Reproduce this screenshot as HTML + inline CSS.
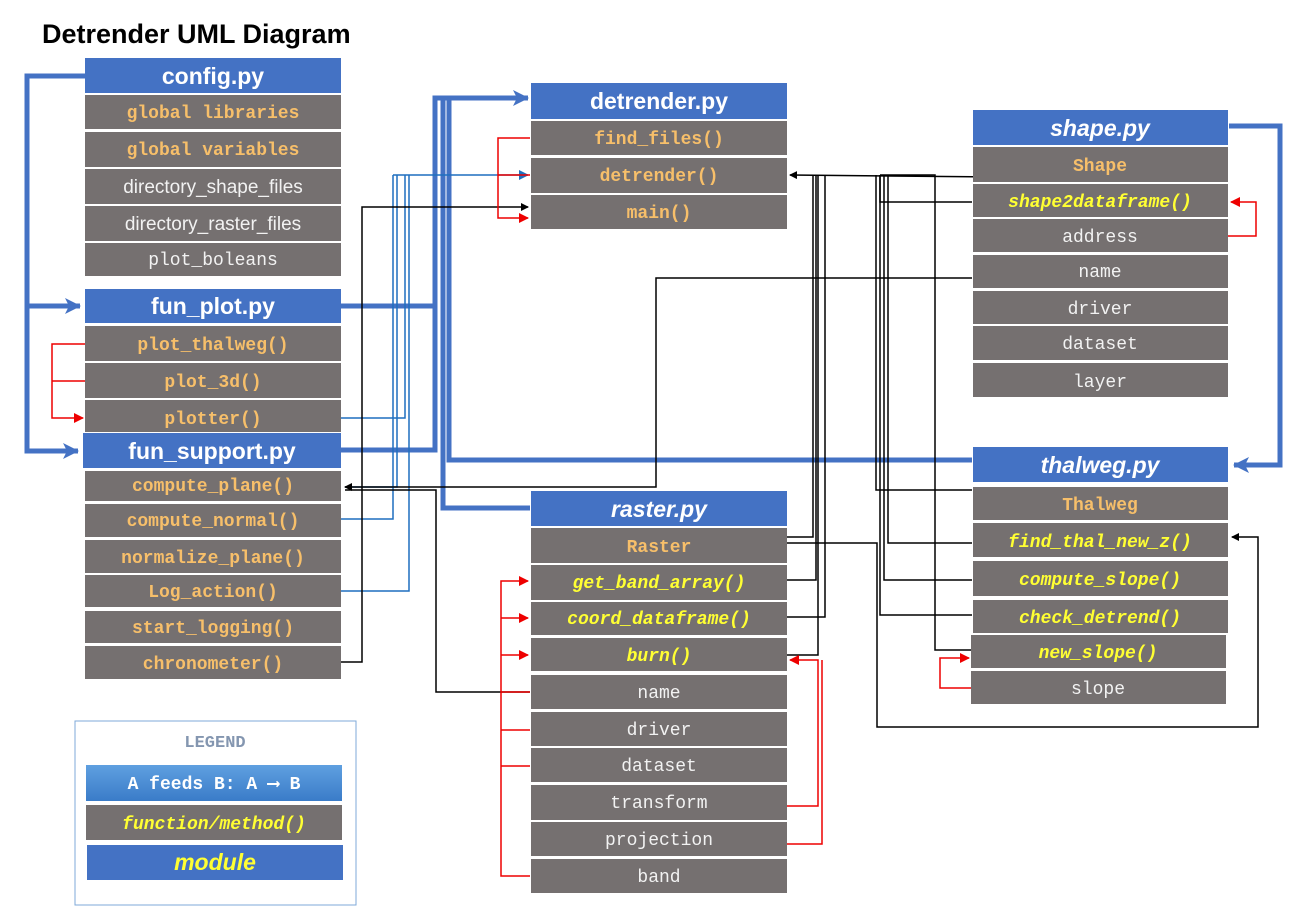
<!DOCTYPE html>
<html><head><meta charset="utf-8"><style>
html,body{margin:0;padding:0;background:#fff;width:1312px;height:910px;overflow:hidden}
svg{display:block}
.h{font-family:"Liberation Sans",sans-serif;font-weight:bold;font-size:23px;fill:#fff}
.hi{font-family:"Liberation Sans",sans-serif;font-weight:bold;font-style:italic;font-size:23px;fill:#fff}
.o{font-family:"Liberation Mono",monospace;font-weight:bold;font-size:18px;fill:#F7BF6A}
.w{font-family:"Liberation Mono",monospace;font-size:18px;fill:#F2F2F2}
.s{font-family:"Liberation Sans",sans-serif;font-size:19px;fill:#F2F2F2}
.y{font-family:"Liberation Mono",monospace;font-weight:bold;font-style:italic;font-size:18px;fill:#FFFF33}
.g{fill:#757070}.b{fill:#4472C4}
</style></head><body>
<svg width="1312" height="910" xmlns="http://www.w3.org/2000/svg">
<defs>
<marker id="ab" markerWidth="8" markerHeight="8" refX="7" refY="4" orient="auto" markerUnits="userSpaceOnUse"><path d="M0,0 L8,4 L0,8z" fill="#000"/></marker>
<marker id="ar" markerWidth="10" markerHeight="10" refX="9" refY="5" orient="auto" markerUnits="userSpaceOnUse"><path d="M0,0 L10,5 L0,10z" fill="#e00"/></marker>
<marker id="al" markerWidth="10" markerHeight="10" refX="9" refY="5" orient="auto" markerUnits="userSpaceOnUse"><path d="M0,0 L10,5 L0,10z" fill="#1F6FBF"/></marker>
<marker id="aB" markerWidth="16" markerHeight="16" refX="15" refY="8" orient="auto" markerUnits="userSpaceOnUse"><path d="M0,0 L16,8 L0,16 L4,8z" fill="#4472C4"/></marker>
<linearGradient id="lg" x1="0" y1="0" x2="0" y2="1"><stop offset="0" stop-color="#5FA0E0"/><stop offset="1" stop-color="#3A7CC8"/></linearGradient>
</defs>
<text x="42" y="43" font-family="Liberation Sans,sans-serif" font-weight="bold" font-size="27" fill="#000">Detrender UML Diagram</text>

<g fill="none" stroke="#4472C4" stroke-width="5">
<polyline points="85,76 27,76 27,451 78,451" marker-end="url(#aB)"/>
<polyline points="27,306 80,306" marker-end="url(#aB)"/>
<polyline points="341,306 435,306"/>
<polyline points="341,450 435,450 435,98 528,98" marker-end="url(#aB)"/>
<polyline points="530,508 443,508 443,98"/>
<polyline points="972,460 449,460 449,98"/>
<polyline points="1229,126 1280,126 1280,465 1234,465" marker-end="url(#aB)"/>
</g>
<g fill="none" stroke="#1F6FBF" stroke-width="1.5">
<polyline points="341,418 405,418 405,175"/>
<polyline points="341,519 393,519 393,175"/>
<polyline points="341,591 409,591 409,175"/>
<polyline points="397,175 397,487 345,487"/>
<polyline points="393,175 528,175" marker-end="url(#al)"/>
</g>
<g fill="none" stroke="#000" stroke-width="1.5">
<polyline points="341,662 362,662 362,207 528,207" marker-end="url(#ab)"/>
<polyline points="972,278 656,278 656,487 345,487" marker-end="url(#ab)"/>
<polyline points="530,692 436,692 436,490 345,490"/>
<polyline points="1000,177 790,175" marker-end="url(#ab)"/>
<polyline points="787,580 816,580 816,175"/>
<polyline points="787,617 825,617 825,175"/>
<polyline points="787,655 818,655 818,175"/>
<polyline points="787,537 813,537 813,175"/>
<polyline points="787,543 877,543 877,727 1258,727 1258,537 1232,537" marker-end="url(#ab)"/>
<polyline points="972,202 880,202 880,175"/>
<polyline points="972,490 876,490 876,175"/>
<polyline points="972,543 888,543 888,175"/>
<polyline points="972,580 884,580 884,175"/>
<polyline points="972,615 880,615 880,175"/>
<polyline points="972,650 935,650 935,175 880,175"/>
</g>
<g fill="none" stroke="#e00" stroke-width="1.5">
<polyline points="530,138 498,138 498,218 528,218" marker-end="url(#ar)"/>
<polyline points="530,175 498,175"/>
<polyline points="85,344 52,344 52,418 83,418" marker-end="url(#ar)"/>
<polyline points="85,381 52,381"/>
<polyline points="1228,236 1256,236 1256,202 1231,202" marker-end="url(#ar)"/>
<polyline points="971,688 940,688 940,658 969,658" marker-end="url(#ar)"/>
<polyline points="530,876 501,876 501,581 528,581" marker-end="url(#ar)"/>
<polyline points="501,618 528,618" marker-end="url(#ar)"/>
<polyline points="501,655 528,655" marker-end="url(#ar)"/>
<polyline points="501,692 530,692"/><polyline points="501,730 530,730"/><polyline points="501,766 530,766"/>
<polyline points="787,806 818,806 818,660 790,660" marker-end="url(#ar)"/>
<polyline points="787,844 822,844 822,660"/>
</g>

<rect class="b" x="85" y="58" width="256" height="35"/><text class="h" x="213" y="84" text-anchor="middle">config.py</text>
<rect class="g" x="85" y="95" width="256" height="34"/><text class="o" x="213" y="118" text-anchor="middle">global libraries</text>
<rect class="g" x="85" y="132" width="256" height="35"/><text class="o" x="213" y="155" text-anchor="middle">global variables</text>
<rect class="g" x="85" y="169" width="256" height="35"/><text class="s" x="213" y="193" text-anchor="middle">directory_shape_files</text>
<rect class="g" x="85" y="206" width="256" height="35"/><text class="s" x="213" y="230" text-anchor="middle">directory_raster_files</text>
<rect class="g" x="85" y="243" width="256" height="33"/><text class="w" x="213" y="265" text-anchor="middle">plot_boleans</text>
<rect class="b" x="85" y="289" width="256" height="34"/><text class="h" x="213" y="314" text-anchor="middle">fun_plot.py</text>
<rect class="g" x="85" y="326" width="256" height="35"/><text class="o" x="213" y="350" text-anchor="middle">plot_thalweg()</text>
<rect class="g" x="85" y="363" width="256" height="35"/><text class="o" x="213" y="387" text-anchor="middle">plot_3d()</text>
<rect class="g" x="85" y="400" width="256" height="32"/><text class="o" x="213" y="424" text-anchor="middle">plotter()</text>
<rect class="b" x="83" y="433" width="258" height="35"/><text class="h" x="212" y="459" text-anchor="middle">fun_support.py</text>
<rect class="g" x="85" y="471" width="256" height="30"/><text class="o" x="213" y="491" text-anchor="middle">compute_plane()</text>
<rect class="g" x="85" y="504" width="256" height="33"/><text class="o" x="213" y="526" text-anchor="middle">compute_normal()</text>
<rect class="g" x="85" y="540" width="256" height="33"/><text class="o" x="213" y="563" text-anchor="middle">normalize_plane()</text>
<rect class="g" x="85" y="575" width="256" height="32"/><text class="o" x="213" y="597" text-anchor="middle">Log_action()</text>
<rect class="g" x="85" y="611" width="256" height="32"/><text class="o" x="213" y="633" text-anchor="middle">start_logging()</text>
<rect class="g" x="85" y="646" width="256" height="33"/><text class="o" x="213" y="669" text-anchor="middle">chronometer()</text>
<rect class="b" x="531" y="83" width="256" height="36"/><text class="h" x="659" y="109" text-anchor="middle">detrender.py</text>
<rect class="g" x="531" y="121" width="256" height="34"/><text class="o" x="659" y="144" text-anchor="middle">find_files()</text>
<rect class="g" x="531" y="158" width="256" height="35"/><text class="o" x="659" y="181" text-anchor="middle">detrender()</text>
<rect class="g" x="531" y="195" width="256" height="34"/><text class="o" x="659" y="218" text-anchor="middle">main()</text>
<rect class="b" x="531" y="491" width="256" height="35"/><text class="hi" x="659" y="517" text-anchor="middle">raster.py</text>
<rect class="g" x="531" y="528" width="256" height="35"/><text class="o" x="659" y="552" text-anchor="middle">Raster</text>
<rect class="g" x="531" y="565" width="256" height="35"/><text class="y" x="659" y="588" text-anchor="middle">get_band_array()</text>
<rect class="g" x="531" y="602" width="256" height="33"/><text class="y" x="659" y="624" text-anchor="middle">coord_dataframe()</text>
<rect class="g" x="531" y="638" width="256" height="33"/><text class="y" x="659" y="661" text-anchor="middle">burn()</text>
<rect class="g" x="531" y="675" width="256" height="34"/><text class="w" x="659" y="698" text-anchor="middle">name</text>
<rect class="g" x="531" y="712" width="256" height="34"/><text class="w" x="659" y="735" text-anchor="middle">driver</text>
<rect class="g" x="531" y="748" width="256" height="34"/><text class="w" x="659" y="771" text-anchor="middle">dataset</text>
<rect class="g" x="531" y="785" width="256" height="35"/><text class="w" x="659" y="808" text-anchor="middle">transform</text>
<rect class="g" x="531" y="822" width="256" height="34"/><text class="w" x="659" y="845" text-anchor="middle">projection</text>
<rect class="g" x="531" y="859" width="256" height="34"/><text class="w" x="659" y="882" text-anchor="middle">band</text>
<rect class="b" x="973" y="110" width="255" height="35"/><text class="hi" x="1100" y="136" text-anchor="middle">shape.py</text>
<rect class="g" x="973" y="147" width="255" height="35"/><text class="o" x="1100" y="171" text-anchor="middle">Shape</text>
<rect class="g" x="973" y="184" width="255" height="33"/><text class="y" x="1100" y="207" text-anchor="middle">shape2dataframe()</text>
<rect class="g" x="973" y="219" width="255" height="33"/><text class="w" x="1100" y="242" text-anchor="middle">address</text>
<rect class="g" x="973" y="255" width="255" height="33"/><text class="w" x="1100" y="277" text-anchor="middle">name</text>
<rect class="g" x="973" y="291" width="255" height="33"/><text class="w" x="1100" y="314" text-anchor="middle">driver</text>
<rect class="g" x="973" y="326" width="255" height="34"/><text class="w" x="1100" y="349" text-anchor="middle">dataset</text>
<rect class="g" x="973" y="363" width="255" height="34"/><text class="w" x="1100" y="387" text-anchor="middle">layer</text>
<rect class="b" x="973" y="447" width="255" height="35"/><text class="hi" x="1100" y="473" text-anchor="middle">thalweg.py</text>
<rect class="g" x="973" y="487" width="255" height="33"/><text class="o" x="1100" y="510" text-anchor="middle">Thalweg</text>
<rect class="g" x="973" y="523" width="255" height="34"/><text class="y" x="1100" y="547" text-anchor="middle">find_thal_new_z()</text>
<rect class="g" x="973" y="561" width="255" height="35"/><text class="y" x="1100" y="585" text-anchor="middle">compute_slope()</text>
<rect class="g" x="973" y="600" width="255" height="33"/><text class="y" x="1100" y="623" text-anchor="middle">check_detrend()</text>
<rect class="g" x="971" y="635" width="255" height="33"/><text class="y" x="1098" y="658" text-anchor="middle">new_slope()</text>
<rect class="g" x="971" y="671" width="255" height="33"/><text class="w" x="1098" y="694" text-anchor="middle">slope</text>
<rect x="75" y="721" width="281" height="184" fill="none" stroke="#7FAAD8" stroke-width="1"/>
<text x="215" y="747" text-anchor="middle" font-family="Liberation Mono,monospace" font-weight="bold" font-size="17" fill="#8496B0">LEGEND</text>
<rect x="86" y="765" width="256" height="36" fill="url(#lg)"/>
<text x="214" y="789" text-anchor="middle" font-family="Liberation Mono,monospace" font-weight="bold" font-size="18" fill="#fff">A feeds B: A ⟶ B</text>
<rect class="g" x="86" y="805" width="256" height="35"/><text class="y" x="214" y="829" text-anchor="middle">function/method()</text>
<rect class="b" x="87" y="845" width="256" height="35"/><text x="215" y="870" text-anchor="middle" font-family="Liberation Sans,sans-serif" font-weight="bold" font-style="italic" font-size="23" fill="#FFFF33">module</text>
</svg>
</body></html>
